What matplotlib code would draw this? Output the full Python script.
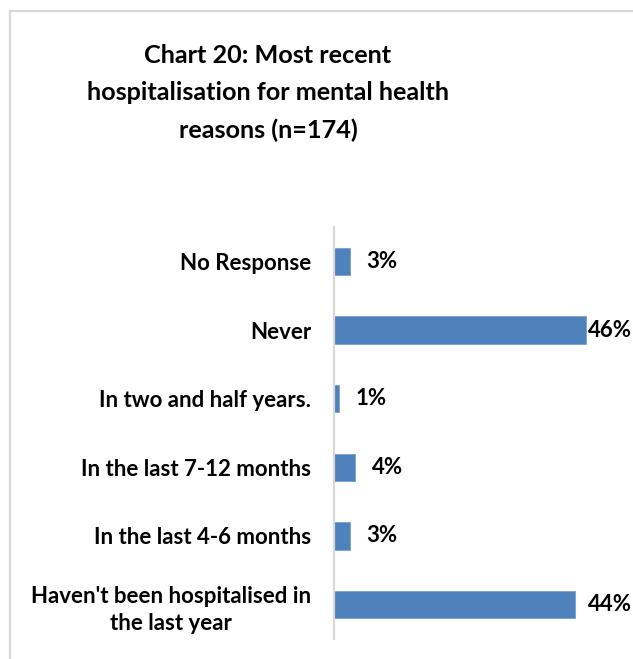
import matplotlib
matplotlib.use("Agg")
from matplotlib import pyplot as plt
from matplotlib.patches import Rectangle

plt.rcParams['font.family'] = ['Lato', 'DejaVu Sans']
plt.rcParams['font.weight'] = 'bold'

categories = [
    "No Response",
    "Never",
    "In two and half years.",
    "In the last 7-12 months",
    "In the last 4-6 months",
    "Haven't been hospitalised in\nthe last year",
]
percents = [3, 46, 1, 4, 3, 44]

title = "Chart 20: Most recent\nhospitalisation for mental health\nreasons (n=174)"

W, H = 633, 659
LABEL_SIZE = 16
fig = plt.figure(figsize=(W / 100, H / 100), dpi=100)

# chart area outline (only top and left edges fall inside the image)
frame = Rectangle((10 / W, -0.2), 1.2, 1.2 - 11 / H, transform=fig.transFigure,
                  fill=False, edgecolor='#d9d9d9', linewidth=1.6, clip_on=False)
fig.patches.append(frame)

fig.text(268 / W, 1 - 93 / H, title, ha='center', va='center', fontsize=18.2,
         fontweight='bold', linespacing=1.72, color='black')

ax = fig.add_axes([333.5 / W, 1 - 639 / H, 274 / W, 412 / H])
ypos = list(range(len(categories)))
ax.barh(ypos, percents, height=0.4, color='#4f81bd', edgecolor='#7aa0d0', linewidth=0.6)
ax.set_xlim(0, 50)
ax.set_ylim(len(categories) - 0.5, -0.5)
ax.set_yticks(ypos)
ax.set_yticklabels(categories, multialignment='center', fontsize=LABEL_SIZE,
                   fontweight='bold', linespacing=1.35)
ax.tick_params(axis='y', length=0, pad=16)
ax.set_xticks([])
for s in ['top', 'right', 'bottom']:
    ax.spines[s].set_visible(False)
ax.spines['left'].set_color('#d9d9d9')
ax.spines['left'].set_linewidth(1.6)

# value labels: outside the bar end, pushed back inside the chart if they overflow
fig.canvas.draw()
renderer = fig.canvas.get_renderer()
right_px = 632
for y, v in zip(ypos, percents):
    t = ax.annotate(f"{v}%", (v, y), xytext=(12, 0), textcoords='offset points',
                    ha='left', va='center', fontsize=LABEL_SIZE, fontweight='bold')
    bb = t.get_window_extent(renderer)
    if bb.x1 > right_px:
        t.remove()
        px_y = ax.transData.transform((v, y))[1]
        fig.text(right_px / W, px_y / H, f"{v}%", ha='right', va='center',
                 fontsize=LABEL_SIZE, fontweight='bold')

fig.savefig("out.png", dpi=100)
